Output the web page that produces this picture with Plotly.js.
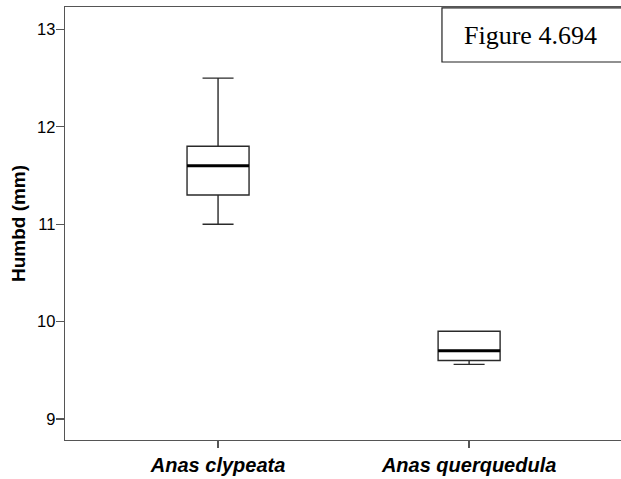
<!DOCTYPE html>
<html>
<head>
<meta charset="utf-8">
<script src="https://cdn.plot.ly/plotly-3.0.1.min.js"></script>
<style>html,body{margin:0;padding:0;background:#fff;}</style>
</head>
<body>
<div id="chart" style="width:621px;height:479px;"></div>
<script>
const categories = ["Anas clypeata", "Anas querquedula"];
const lowerWhisker = [11.0, 9.56];
const q1Values = [11.3, 9.6];
const medianValues = [11.6, 9.7];
const q3Values = [11.8, 9.9];
const upperWhisker = [12.5, 9.9];
const yTickValues = [9, 10, 11, 12, 13];
const figureLabel = "Figure 4.694";

const boxWidth = 0.247;

const trace = {
  type: "box",
  x: categories,
  q1: q1Values,
  median: medianValues,
  q3: q3Values,
  lowerfence: lowerWhisker,
  upperfence: upperWhisker,
  boxpoints: false,
  width: boxWidth,
  whiskerwidth: 0.5,
  fillcolor: "#ffffff",
  line: {color: "#2a2a2a", width: 1.4},
  hoverinfo: "skip",
  showlegend: false
};

const shapes = medianValues.map((m, i) => ({
  type: "line", xref: "x", yref: "y",
  x0: i - boxWidth / 2, x1: i + boxWidth / 2, y0: m, y1: m,
  line: {color: "#000000", width: 3}
}));

shapes.push({
  type: "rect", xref: "paper", yref: "paper",
  x0: 0.678, x1: 1.02, y0: 0.873, y1: 0.998,
  fillcolor: "#ffffff",
  line: {color: "#222222", width: 1.2}
});

const layout = {
  width: 621, height: 479,
  margin: {l: 65, r: 0, t: 7, b: 39},
  paper_bgcolor: "#ffffff",
  plot_bgcolor: "#ffffff",
  xaxis: {
    type: "category",
    range: [-0.6096, 1.605],
    showgrid: false, zeroline: false,
    showline: true, linecolor: "#555555", linewidth: 1.3, mirror: true,
    ticks: "outside", ticklen: 7, tickcolor: "#555555", tickwidth: 1.3,
    tickfont: {family: "Liberation Sans, Arial, sans-serif", size: 20, color: "#000000", weight: "bold", style: "italic"}
  },
  yaxis: {
    range: [8.784, 13.23],
    tickvals: yTickValues,
    showgrid: false, zeroline: false,
    showline: true, linecolor: "#555555", linewidth: 1.3,
    ticks: "outside", ticklen: 8, tickcolor: "#555555", tickwidth: 1.3,
    ticklabelstandoff: -3,
    tickfont: {family: "Liberation Sans, Arial, sans-serif", size: 16.5, color: "#000000"},
    title: {
      text: "Humbd (mm)",
      font: {family: "Liberation Sans, Arial, sans-serif", size: 19, color: "#000000", weight: "bold"},
      standoff: 6
    }
  },
  shapes: shapes,
  annotations: [{
    xref: "paper", yref: "paper",
    x: 0.838, y: 0.935,
    xanchor: "center", yanchor: "middle",
    text: figureLabel,
    showarrow: false,
    font: {family: "Liberation Serif, Times New Roman, serif", size: 26, color: "#000000"}
  }]
};

Plotly.newPlot("chart", [trace], layout, {displayModeBar: false, staticPlot: true});
</script>
</body>
</html>
